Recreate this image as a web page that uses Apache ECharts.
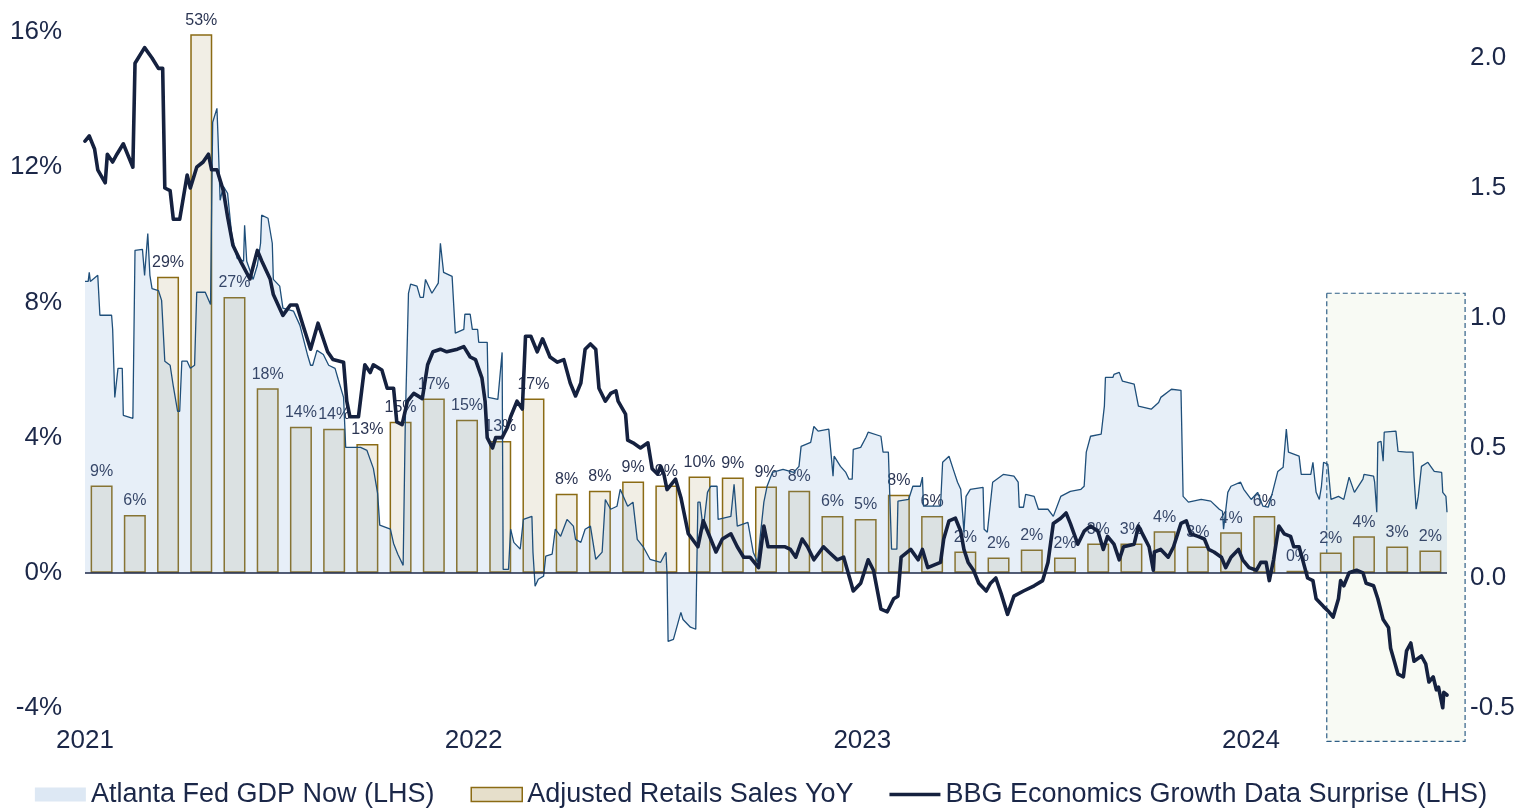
<!DOCTYPE html>
<html>
<head>
<meta charset="utf-8">
<script src="https://cdn.jsdelivr.net/npm/echarts@6/dist/echarts.min.js"></script>
<style>
  html, body { margin: 0; padding: 0; background: #fff; }
  #chart { width: 1522px; height: 808px; }
</style>
</head>
<body>
<div id="chart"></div>
<script>
// Atlanta Fed GDP Now, % (left axis)
const gdpNow = [
  ['2021-01-01',8.62],['2021-01-04',8.62],['2021-01-05',8.89],['2021-01-06',8.62],['2021-01-13',8.80],['2021-01-15',7.62],
  ['2021-01-26',7.62],['2021-01-27',7.20],['2021-01-29',5.19],['2021-02-01',6.05],['2021-02-05',6.05],['2021-02-06',4.66],
  ['2021-02-15',4.57],['2021-02-17',9.54],['2021-02-24',9.57],['2021-02-26',8.80],['2021-03-01',10.04],['2021-03-03',8.80],
  ['2021-03-05',8.41],['2021-03-11',8.35],['2021-03-14',8.06],['2021-03-17',6.26],['2021-03-22',6.14],['2021-03-25',5.52],
  ['2021-03-29',4.78],['2021-03-31',4.78],['2021-04-02',6.26],['2021-04-07',6.26],['2021-04-10',6.05],['2021-04-14',6.14],
  ['2021-04-16',8.30],['2021-04-24',8.30],['2021-04-29',7.94],['2021-04-30',10.78],['2021-05-01',13.33],['2021-05-05',13.74],
  ['2021-05-06',12.91],['2021-05-08',11.02],['2021-05-11',11.43],['2021-05-15',11.23],['2021-05-19',9.96],['2021-05-24',9.30],
  ['2021-05-30',9.22],['2021-05-31',10.28],['2021-06-02',9.22],['2021-06-08',8.68],['2021-06-12',9.10],['2021-06-15',9.75],
  ['2021-06-16',10.58],['2021-06-22',10.49],['2021-06-26',9.75],['2021-06-27',8.68],['2021-07-03',8.48],['2021-07-06',7.83],
  ['2021-07-16',7.74],['2021-07-22',7.32],['2021-07-29',6.46],['2021-08-01',6.14],['2021-08-03',6.14],['2021-08-07',6.58],
  ['2021-08-13',6.46],['2021-08-18',6.14],['2021-08-24',6.05],['2021-08-27',5.72],['2021-09-01',5.19],['2021-09-03',3.71],
  ['2021-09-17',3.71],['2021-09-23',3.62],['2021-09-29',3.09],['2021-10-03',2.35],['2021-10-05',1.41],['2021-10-15',1.29],
  ['2021-10-18',0.87],['2021-10-22',0.55],['2021-10-27',0.22],['2021-10-29',4.45],['2021-11-01',8.27],['2021-11-03',8.54],
  ['2021-11-09',8.48],['2021-11-12',8.15],['2021-11-15',8.15],['2021-11-17',8.68],['2021-11-23',8.27],['2021-11-29',8.57],
  ['2021-12-01',9.75],['2021-12-04',8.89],['2021-12-10',8.80],['2021-12-12',8.77],['2021-12-15',7.09],['2021-12-23',7.20],
  ['2021-12-24',7.65],['2021-12-29',7.65],['2021-12-31',7.20],['2022-01-05',7.20],['2022-01-06',6.82],['2022-01-14',6.82],
  ['2022-01-15',5.19],['2022-01-24',5.13],['2022-01-28',6.52],['2022-01-29',0.10],['2022-02-03',0.10],['2022-02-05',1.29],
  ['2022-02-08',0.90],['2022-02-14',0.70],['2022-02-17',1.58],['2022-02-25',1.67],['2022-02-26',0.61],['2022-02-28',-0.40],
  ['2022-03-03',-0.19],['2022-03-08',-0.10],['2022-03-10',0.49],['2022-03-16',0.55],['2022-03-19',1.29],['2022-03-24',1.08],
  ['2022-03-30',1.58],['2022-04-05',1.38],['2022-04-07',0.99],['2022-04-12',0.90],['2022-04-16',1.29],['2022-04-21',1.38],
  ['2022-04-26',0.40],['2022-05-02',0.61],['2022-05-05',2.17],['2022-05-10',1.88],['2022-05-16',1.97],['2022-05-19',2.47],
  ['2022-05-26',1.97],['2022-05-31',2.09],['2022-06-04',0.99],['2022-06-10',0.75],['2022-06-16',0.40],['2022-06-26',0.31],
  ['2022-07-01',0.61],['2022-07-02',-0.04],['2022-07-03',-2.03],['2022-07-08',-1.97],['2022-07-15',-1.17],['2022-07-17',-1.38],
  ['2022-07-24',-1.61],['2022-07-29',-1.67],['2022-07-31',2.09],['2022-08-02',2.09],['2022-08-05',1.29],['2022-08-09',2.38],
  ['2022-08-12',2.56],['2022-08-18',2.56],['2022-08-19',1.58],['2022-08-31',1.67],['2022-09-03',2.62],['2022-09-06',1.38],
  ['2022-09-16',1.49],['2022-09-21',0.61],['2022-09-25',0.31],['2022-10-01',2.09],['2022-10-04',2.56],['2022-10-09',2.97],
  ['2022-10-19',3.06],['2022-10-29',2.97],['2022-11-03',3.15],['2022-11-05',3.74],['2022-11-14',3.86],['2022-11-17',4.33],
  ['2022-11-21',4.19],['2022-12-01',4.25],['2022-12-03',3.57],['2022-12-05',2.86],['2022-12-06',3.45],['2022-12-12',3.15],
  ['2022-12-17',2.97],['2022-12-20',2.77],['2022-12-23',2.77],['2022-12-24',3.65],['2022-12-31',3.71],['2023-01-05',4.01],
  ['2023-01-07',4.16],['2023-01-19',4.04],['2023-01-21',3.57],['2023-01-26',3.57],['2023-01-29',0.70],['2023-02-03',0.70],
  ['2023-02-04',2.12],['2023-02-14',2.17],['2023-02-18',2.56],['2023-02-25',2.56],['2023-02-27',2.83],['2023-02-28',1.97],
  ['2023-03-16',1.97],['2023-03-18',3.27],['2023-03-24',3.45],['2023-03-28',3.06],['2023-04-01',2.68],['2023-04-04',2.47],
  ['2023-04-06',1.67],['2023-04-07',1.20],['2023-04-09',2.26],['2023-04-13',2.47],['2023-04-25',2.53],['2023-04-26',1.29],
  ['2023-04-29',1.20],['2023-05-04',2.68],['2023-05-14',2.91],['2023-05-24',2.86],['2023-05-28',2.68],['2023-05-29',1.94],
  ['2023-06-02',1.94],['2023-06-04',2.32],['2023-06-12',2.26],['2023-06-16',1.88],['2023-06-25',1.88],['2023-06-30',1.67],
  ['2023-07-07',2.26],['2023-07-16',2.41],['2023-07-26',2.47],['2023-07-29',2.56],['2023-07-31',3.57],['2023-08-04',4.04],
  ['2023-08-14',4.10],['2023-08-17',4.93],['2023-08-18',5.78],['2023-08-25',5.78],['2023-08-26',5.87],['2023-08-31',5.93],
  ['2023-09-03',5.67],['2023-09-14',5.58],['2023-09-18',4.93],['2023-09-30',4.84],['2023-10-07',5.04],['2023-10-09',5.19],
  ['2023-10-19',5.43],['2023-10-28',5.40],['2023-10-30',2.26],['2023-11-04',2.09],['2023-11-16',2.17],['2023-11-25',2.12],
  ['2023-12-03',1.88],['2023-12-06',1.82],['2023-12-07',1.29],['2023-12-11',2.38],['2023-12-14',2.56],['2023-12-23',2.68],
  ['2023-12-26',2.47],['2024-01-02',2.17],['2024-01-08',2.38],['2024-01-13',1.97],['2024-01-18',1.94],['2024-01-22',2.38],
  ['2024-01-27',3.00],['2024-02-01',3.12],['2024-02-04',4.25],['2024-02-06',3.57],['2024-02-16',3.45],['2024-02-18',2.91],
  ['2024-02-27',2.91],['2024-02-29',3.27],['2024-03-03',2.38],['2024-03-06',2.17],['2024-03-08',2.56],['2024-03-10',3.27],
  ['2024-03-14',3.21],['2024-03-17',2.17],['2024-03-24',2.26],['2024-03-29',2.17],['2024-04-03',2.83],['2024-04-08',2.38],
  ['2024-04-16',2.77],['2024-04-17',2.91],['2024-04-26',2.86],['2024-04-27',2.68],['2024-04-29',1.79],['2024-04-30',3.86],
  ['2024-05-03',3.89],['2024-05-05',3.30],['2024-05-06',4.16],['2024-05-17',4.19],['2024-05-19',3.59],['2024-05-27',3.57],
  ['2024-06-02',3.57],['2024-06-03',2.86],['2024-06-05',1.88],['2024-06-07',2.26],['2024-06-10',3.15],['2024-06-16',3.27],
  ['2024-06-22',3.00],['2024-06-29',2.97],['2024-06-30',2.38],['2024-07-03',2.26],['2024-07-04',1.79]
];

// BBG economics growth data surprise (right axis)
const surprise = [
  ['2021-01-01',1.68],['2021-01-05',1.70],['2021-01-10',1.65],['2021-01-13',1.57],['2021-01-20',1.52],['2021-01-22',1.63],
  ['2021-01-27',1.60],['2021-01-31',1.63],['2021-02-06',1.67],['2021-02-10',1.63],['2021-02-15',1.58],['2021-02-17',1.98],
  ['2021-02-26',2.04],['2021-03-05',2.00],['2021-03-11',1.96],['2021-03-15',1.96],['2021-03-17',1.50],['2021-03-22',1.49],
  ['2021-03-25',1.38],['2021-03-31',1.38],['2021-04-07',1.55],['2021-04-10',1.50],['2021-04-16',1.58],['2021-04-22',1.60],
  ['2021-04-27',1.63],['2021-04-30',1.57],['2021-05-05',1.57],['2021-05-11',1.49],['2021-05-15',1.39],['2021-05-20',1.28],
  ['2021-05-27',1.22],['2021-06-05',1.15],['2021-06-12',1.26],['2021-06-16',1.22],['2021-06-24',1.15],['2021-06-27',1.09],
  ['2021-07-06',1.01],['2021-07-13',1.05],['2021-07-19',1.05],['2021-07-25',0.97],['2021-08-01',0.88],['2021-08-08',0.98],
  ['2021-08-17',0.87],['2021-08-22',0.84],['2021-09-01',0.83],['2021-09-04',0.68],['2021-09-07',0.62],['2021-09-15',0.62],
  ['2021-09-21',0.82],['2021-09-26',0.79],['2021-09-29',0.82],['2021-10-07',0.80],['2021-10-12',0.73],['2021-10-18',0.73],
  ['2021-10-21',0.60],['2021-10-26',0.59],['2021-10-31',0.68],['2021-11-06',0.71],['2021-11-14',0.69],['2021-11-19',0.82],
  ['2021-11-24',0.87],['2021-12-01',0.88],['2021-12-07',0.87],['2021-12-17',0.88],['2021-12-23',0.89],['2021-12-29',0.85],
  ['2022-01-03',0.84],['2022-01-09',0.77],['2022-01-12',0.68],['2022-01-14',0.54],['2022-01-19',0.50],['2022-01-22',0.54],
  ['2022-01-28',0.54],['2022-02-02',0.58],['2022-02-05',0.62],['2022-02-11',0.68],['2022-02-16',0.65],['2022-02-19',0.93],
  ['2022-02-24',0.93],['2022-03-02',0.87],['2022-03-07',0.92],['2022-03-14',0.85],['2022-03-21',0.83],['2022-03-27',0.84],
  ['2022-04-02',0.75],['2022-04-07',0.70],['2022-04-12',0.75],['2022-04-16',0.88],['2022-04-21',0.90],['2022-04-26',0.88],
  ['2022-04-29',0.73],['2022-05-05',0.68],['2022-05-10',0.71],['2022-05-15',0.72],['2022-05-17',0.68],['2022-05-24',0.63],
  ['2022-05-26',0.53],['2022-05-31',0.52],['2022-06-07',0.50],['2022-06-14',0.52],['2022-06-18',0.42],['2022-06-23',0.40],
  ['2022-06-26',0.43],['2022-06-29',0.40],['2022-07-02',0.34],['2022-07-10',0.38],['2022-07-15',0.31],['2022-07-22',0.17],
  ['2022-07-31',0.12],['2022-08-05',0.22],['2022-08-10',0.17],['2022-08-17',0.10],['2022-08-23',0.15],['2022-08-31',0.17],
  ['2022-09-06',0.12],['2022-09-12',0.08],['2022-09-18',0.08],['2022-09-26',0.04],['2022-10-01',0.20],['2022-10-05',0.12],
  ['2022-10-12',0.12],['2022-10-21',0.12],['2022-10-26',0.11],['2022-10-31',0.08],['2022-11-06',0.15],['2022-11-11',0.12],
  ['2022-11-17',0.07],['2022-11-26',0.12],['2022-12-01',0.10],['2022-12-09',0.07],['2022-12-15',0.08],['2022-12-22',-0.02],
  ['2022-12-24',-0.05],['2022-12-31',-0.02],['2023-01-07',0.07],['2023-01-12',0.03],['2023-01-19',-0.12],['2023-01-25',-0.13],
  ['2023-01-31',-0.08],['2023-02-04',-0.07],['2023-02-07',0.08],['2023-02-16',0.11],['2023-02-23',0.07],['2023-02-27',0.11],
  ['2023-03-04',0.04],['2023-03-16',0.06],['2023-03-19',0.15],['2023-03-24',0.22],['2023-03-30',0.23],['2023-04-04',0.18],
  ['2023-04-07',0.11],['2023-04-11',0.06],['2023-04-16',0.03],['2023-04-21',-0.02],['2023-04-28',-0.05],['2023-05-02',-0.02],
  ['2023-05-07',0.00],['2023-05-12',-0.06],['2023-05-18',-0.14],['2023-05-24',-0.07],['2023-06-02',-0.05],['2023-06-12',-0.03],
  ['2023-06-20',-0.01],['2023-06-25',0.06],['2023-06-30',0.21],['2023-07-07',0.23],['2023-07-12',0.25],['2023-07-16',0.21],
  ['2023-07-23',0.13],['2023-07-29',0.18],['2023-08-04',0.20],['2023-08-11',0.18],['2023-08-16',0.11],['2023-08-20',0.16],
  ['2023-08-26',0.13],['2023-08-31',0.07],['2023-09-04',0.12],['2023-09-14',0.13],['2023-09-18',0.20],['2023-09-23',0.16],
  ['2023-09-28',0.12],['2023-10-02',0.03],['2023-10-03',0.10],['2023-10-09',0.11],['2023-10-16',0.08],['2023-10-21',0.12],
  ['2023-10-28',0.21],['2023-11-02',0.22],['2023-11-06',0.17],['2023-11-13',0.16],['2023-11-19',0.15],['2023-11-23',0.11],
  ['2023-11-28',0.10],['2023-12-05',0.08],['2023-12-09',0.04],['2023-12-14',0.08],['2023-12-21',0.11],['2023-12-25',0.07],
  ['2023-12-31',0.04],['2024-01-07',0.03],['2024-01-11',0.06],['2024-01-16',0.06],['2024-01-19',-0.01],['2024-01-23',0.07],
  ['2024-01-28',0.20],['2024-02-02',0.17],['2024-02-08',0.16],['2024-02-11',0.12],['2024-02-16',0.12],['2024-02-20',0.06],
  ['2024-02-24',0.00],['2024-02-29',-0.01],['2024-03-03',-0.08],['2024-03-10',-0.11],['2024-03-15',-0.13],['2024-03-19',-0.15],
  ['2024-03-24',-0.08],['2024-03-26',-0.01],['2024-03-29',-0.03],['2024-04-03',0.02],['2024-04-10',0.03],['2024-04-16',0.02],
  ['2024-04-19',-0.02],['2024-04-26',-0.03],['2024-04-30',-0.08],['2024-05-05',-0.16],['2024-05-10',-0.19],['2024-05-12',-0.27],
  ['2024-05-19',-0.37],['2024-05-24',-0.38],['2024-05-27',-0.28],['2024-05-31',-0.25],['2024-06-03',-0.32],['2024-06-10',-0.30],
  ['2024-06-14',-0.33],['2024-06-17',-0.40],['2024-06-21',-0.38],['2024-06-24',-0.43],['2024-06-26',-0.42],['2024-06-30',-0.50],
  ['2024-07-01',-0.44],['2024-07-04',-0.45]
];

// adjusted retail sales YoY, monthly
const salesMonths = [
  '2021-01','2021-02','2021-03','2021-04','2021-05','2021-06','2021-07','2021-08','2021-09','2021-10','2021-11','2021-12',
  '2022-01','2022-02','2022-03','2022-04','2022-05','2022-06','2022-07','2022-08','2022-09','2022-10','2022-11','2022-12',
  '2023-01','2023-02','2023-03','2023-04','2023-05','2023-06','2023-07','2023-08','2023-09','2023-10','2023-11','2023-12',
  '2024-01','2024-02','2024-03','2024-04','2024-05'
];
const salesYoY = [
  8.6,5.7,29.2,53.1,27.2,18.2,14.4,14.2,12.7,14.9,17.2,15.1,
  13.0,17.2,7.8,8.1,9.0,8.6,9.5,9.4,8.5,8.1,5.6,5.3,
  7.7,5.6,2.1,1.5,2.3,1.5,2.9,2.9,4.1,2.6,4.0,5.6,
  0.2,2.0,3.6,2.6,2.2
];

const yearTicks = ['2021','2022','2023','2024'];
const startDate = '2021-01-01';
const endDate = '2024-07-04';
// shaded box around the latest months
const boxFrom = '2024-03-13', boxTo = '2024-07-21';
const boxTop = 8.27, boxBottom = -4.99;

const NAVY = '#1b2748';
const FONT = 'Liberation Sans, Arial, sans-serif';
const DAY = 86400000;
const t0 = Date.parse(startDate);
const day = s => (Date.parse(s) - t0) / DAY;
const YEAR = 365.25;

const chart = echarts.init(document.getElementById('chart'));
chart.setOption({
  animation: false,
  textStyle: { fontFamily: FONT },
  grid: { left: 85, right: 75, top: 32, bottom: 100, containLabel: false },
  legend: {
    top: 776, left: 'center',
    itemWidth: 51, itemHeight: 14, itemGap: 36,
    textStyle: { fontSize: 27, color: NAVY, fontFamily: FONT },
    data: [
      { name: 'Atlanta Fed GDP Now (LHS)', icon: 'rect', itemStyle: { color: '#dde8f4', borderWidth: 0 } },
      { name: 'Adjusted Retails Sales YoY', icon: 'rect', itemStyle: { color: '#e6dfcb', borderColor: '#8b6b14', borderWidth: 1.5 } },
      { name: 'BBG Economics Growth Data Surprise (LHS)', icon: 'path://M0,0 L50,0 L50,3.5 L0,3.5 Z', itemStyle: { color: '#15213f', borderWidth: 0 } }
    ]
  },
  xAxis: [
    {
      type: 'value', min: day(startDate), max: day(endDate), interval: YEAR,
      axisLine: { show: false }, axisTick: { show: false }, splitLine: { show: false },
      axisLabel: {
        fontSize: 26, color: NAVY, margin: 20,
        formatter: v => {
          const i = Math.round(v / YEAR);
          return Math.abs(v - i * YEAR) < 1 && yearTicks[i] ? yearTicks[i] : '';
        }
      }
    },
    { type: 'category', data: salesMonths, show: false, boundaryGap: true }
  ],
  yAxis: [
    {
      type: 'value', min: -4, max: 16, interval: 4,
      axisLine: { show: false }, axisTick: { show: false }, splitLine: { show: false },
      axisLabel: { fontSize: 26, color: NAVY, margin: 23, formatter: '{value}%' }
    },
    {
      type: 'value', min: -0.5, max: 2.1, interval: 0.5, position: 'right',
      axisLine: { show: false }, axisTick: { show: false }, splitLine: { show: false },
      axisLabel: {
        fontSize: 26, color: NAVY, margin: 23,
        formatter: v => Math.abs(v * 2 - Math.round(v * 2)) < 1e-6 ? v.toFixed(1) : ''
      }
    },
    // bars are scaled so 0 sits on the 0% line and 53% reaches the top
    { type: 'value', min: -40 / 3, max: 160 / 3, show: false, splitLine: { show: false } }
  ],
  series: [
    {
      name: 'Adjusted Retails Sales YoY',
      type: 'bar', xAxisIndex: 1, yAxisIndex: 2, z: 2,
      barWidth: 22,
      data: salesYoY,
      itemStyle: { color: '#f1eee5', borderColor: '#8b6b14', borderWidth: 1.5 },
      label: {
        show: true, position: 'top', distance: 6,
        fontSize: 16, color: '#2b3553',
        formatter: p => Math.round(p.value) + '%'
      }
    },
    {
      name: 'Atlanta Fed GDP Now (LHS)',
      type: 'line', xAxisIndex: 0, yAxisIndex: 0, z: 3,
      symbol: 'none', showSymbol: false,
      data: gdpNow.map(d => [day(d[0]), d[1]]),
      lineStyle: { color: '#1f4f7a', width: 1.3 },
      itemStyle: { color: '#1f4f7a' },
      areaStyle: { color: 'rgba(110,160,215,0.24)' },
      markLine: {
        silent: true, symbol: 'none',
        label: { show: false },
        lineStyle: { color: NAVY, width: 1.5, type: 'solid' },
        data: [{ yAxis: 0 }]
      }
    },
    {
      name: 'BBG Economics Growth Data Surprise (LHS)',
      type: 'line', xAxisIndex: 0, yAxisIndex: 1, z: 5,
      symbol: 'none', showSymbol: false,
      data: surprise.map(d => [day(d[0]), d[1]]),
      lineStyle: { color: '#15213f', width: 3.6, join: 'round', cap: 'round' },
      itemStyle: { color: '#15213f' }
    }
  ]
});

// dashed highlight box, placed through the chart's own scales
const p1 = chart.convertToPixel({ seriesIndex: 1 }, [day(boxFrom), boxTop]);
const p2 = chart.convertToPixel({ seriesIndex: 1 }, [day(boxTo), boxBottom]);
chart.setOption({
  graphic: [{
    type: 'rect', z: 1, silent: true,
    shape: { x: p1[0], y: p1[1], width: p2[0] - p1[0], height: p2[1] - p1[1] },
    style: { fill: '#f8faf4', stroke: '#2f5f86', lineWidth: 1.2, lineDash: [5, 3] }
  }]
});
</script>
</body>
</html>
